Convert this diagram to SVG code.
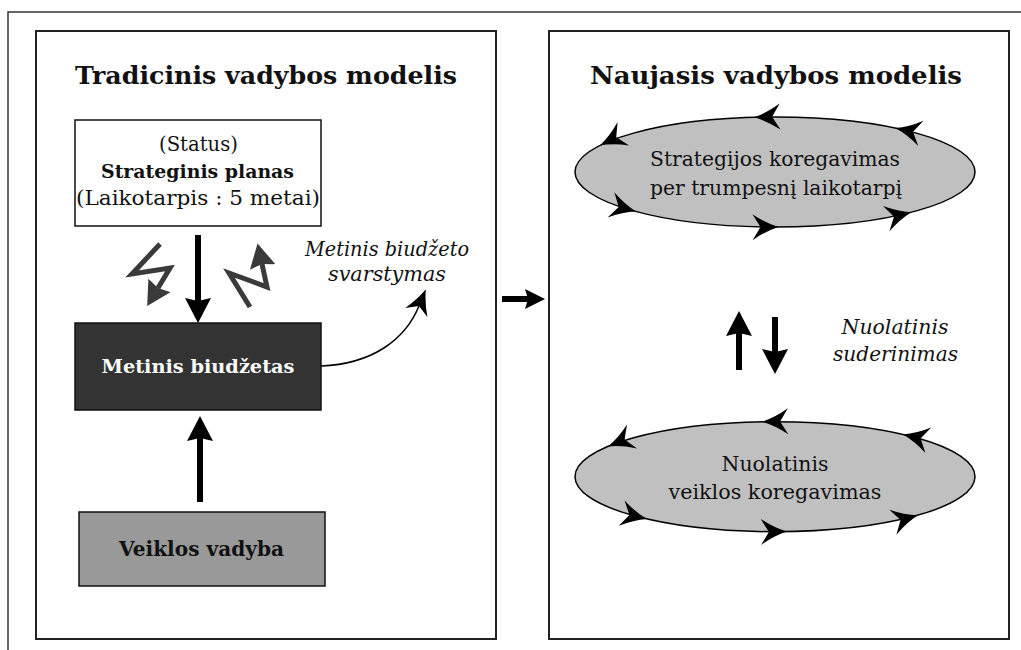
<svg xmlns="http://www.w3.org/2000/svg" width="1021" height="650" viewBox="0 0 1021 650">
<style>
.t{font-family:"DejaVu Serif","Liberation Serif",serif;fill:#111;text-anchor:middle}
.b{font-weight:bold}
.i{font-style:italic}
.panel{fill:#fff;stroke:#222;stroke-width:2}
.box{stroke:#111;stroke-width:1.5}
.thick{fill:none;stroke:#000;stroke-width:6}
.zig{fill:none;stroke:#3a3a3a;stroke-width:5;stroke-linejoin:miter}
.ell{fill:#c0c0c0;stroke:#000;stroke-width:1.5}
</style>
<defs>
<marker id="ah" viewBox="0 0 25 26" markerWidth="25" markerHeight="26" refX="3" refY="13" orient="auto" markerUnits="userSpaceOnUse"><path d="M0,0 L25,13 L0,26 L3,13 Z" fill="#000"/></marker>
<marker id="ahs" viewBox="0 0 20 20" markerWidth="20" markerHeight="20" refX="3" refY="10" orient="auto" markerUnits="userSpaceOnUse"><path d="M0,0 L20,10 L0,20 L3,10 Z" fill="#000"/></marker>
<marker id="gh" viewBox="0 0 24 26" markerWidth="24" markerHeight="26" refX="3" refY="13" orient="auto" markerUnits="userSpaceOnUse"><path d="M0,0 L24,13 L0,26 L3,13 Z" fill="#3a3a3a"/></marker>
<marker id="st" viewBox="0 0 25 24" markerWidth="25" markerHeight="24" refX="7" refY="12" orient="auto" markerUnits="userSpaceOnUse"><path d="M0,0 Q12,8 25,12 Q12,16 0,24 L7,12 Z" fill="#000"/></marker>
<path id="sh" d="M0,0 Q-13,-4 -26,-13 L-18,0 L-26,13 Q-13,4 0,0 Z" fill="#000"/>
</defs>
<rect x="8" y="12" width="1030" height="660" fill="none" stroke="#333" stroke-width="1.5"/>
<g id="panel-left"><rect class="panel" x="36" y="31" width="460" height="608"/>
<text class="t b" x="266" y="84" font-size="25" textLength="382" lengthAdjust="spacingAndGlyphs">Tradicinis vadybos modelis</text></g>
<g id="panel-right"><rect class="panel" x="549" y="31" width="460" height="608"/>
<text class="t b" x="776" y="84" font-size="25" textLength="372" lengthAdjust="spacingAndGlyphs">Naujasis vadybos modelis</text></g>
<g id="strateginis"><rect class="box" x="75" y="120" width="246" height="106" fill="#fff"/>
<text class="t" x="198.5" y="151" font-size="19.5" textLength="79" lengthAdjust="spacingAndGlyphs">(Status)</text>
<text class="t b" x="197.5" y="178" font-size="19" textLength="193" lengthAdjust="spacingAndGlyphs">Strateginis planas</text>
<text class="t" x="198" y="205" font-size="19.5" textLength="244" lengthAdjust="spacingAndGlyphs">(Laikotarpis : 5 metai)</text></g>
<g id="metinis"><rect class="box" x="75" y="323" width="246" height="87" fill="#333"/>
<text class="t b" x="198" y="373" font-size="19" textLength="193" lengthAdjust="spacingAndGlyphs" style="fill:#fff">Metinis biudžetas</text></g>
<g id="veiklos"><rect class="box" x="79" y="512" width="246" height="74" fill="#999"/>
<text class="t b" x="201.5" y="556" font-size="19.5" textLength="165" lengthAdjust="spacingAndGlyphs">Veiklos vadyba</text></g>
<g id="svarstymas-label"><text class="t i" x="387" y="256" font-size="19.5" textLength="164" lengthAdjust="spacingAndGlyphs">Metinis biudžeto</text>
<text class="t i" x="387" y="281" font-size="19.5" textLength="118" lengthAdjust="spacingAndGlyphs">svarstymas</text></g>
<g id="ellipse-strategy"><ellipse class="ell" cx="775" cy="172" rx="200" ry="55"/>
<text class="t" x="775" y="166" font-size="20.5" textLength="250" lengthAdjust="spacingAndGlyphs">Strategijos koregavimas</text>
<text class="t" x="776" y="195" font-size="20.5" textLength="252" lengthAdjust="spacingAndGlyphs">per trumpesnį laikotarpį</text>
<use href="#sh" transform="translate(754.1,117.3) rotate(178.3)"/>
<use href="#sh" transform="translate(895.4,128.1) rotate(191.7)"/>
<use href="#sh" transform="translate(600.1,145.3) rotate(153.6)"/>
<use href="#sh" transform="translate(636.1,211.6) rotate(14.9)"/>
<use href="#sh" transform="translate(778.5,227) rotate(-0.3)"/>
<use href="#sh" transform="translate(911.4,212.2) rotate(-14.4)"/></g>
<g id="ellipse-operations"><ellipse class="ell" cx="775" cy="476.7" rx="200" ry="55"/>
<text class="t" x="775" y="471" font-size="20.5" textLength="107" lengthAdjust="spacingAndGlyphs">Nuolatinis</text>
<text class="t" x="775" y="499" font-size="20.5" textLength="213" lengthAdjust="spacingAndGlyphs">veiklos koregavimas</text>
<use href="#sh" transform="translate(762.1,421.8) rotate(179)"/>
<use href="#sh" transform="translate(903,434.4) rotate(192.9)"/>
<use href="#sh" transform="translate(608,446.4) rotate(157.4)"/>
<use href="#sh" transform="translate(647,519) rotate(12.9)"/>
<use href="#sh" transform="translate(786.9,531.6) rotate(-0.9)"/>
<use href="#sh" transform="translate(917.9,515.2) rotate(-15.7)"/></g>
<g id="suderinimas-label"><text class="t i" x="895" y="334" font-size="19.5" textLength="107" lengthAdjust="spacingAndGlyphs">Nuolatinis</text>
<text class="t i" x="895.5" y="361" font-size="19.5" textLength="125" lengthAdjust="spacingAndGlyphs">suderinimas</text></g>
<g id="connectors">
<path class="thick" d="M198,235 V301" marker-end="url(#ah)"/>
<path class="thick" d="M200,502 V438" marker-end="url(#ah)"/>
<path class="zig" d="M160,244 L132,274 L170,268 L158,288" marker-end="url(#gh)"/>
<path class="zig" d="M250,307 L229,273 L267,287 L262,264" marker-end="url(#gh)"/>
<path d="M321,366 C372,364 405,340 419,306" fill="none" stroke="#000" stroke-width="1.5" marker-end="url(#st)"/>
<path class="thick" d="M502,299 H528" stroke-width="5" marker-end="url(#ahs)"/>
<path class="thick" d="M739,370 V333" marker-end="url(#ah)"/>
<path class="thick" d="M775,317 V352" marker-end="url(#ah)"/>
</g>
</svg>
